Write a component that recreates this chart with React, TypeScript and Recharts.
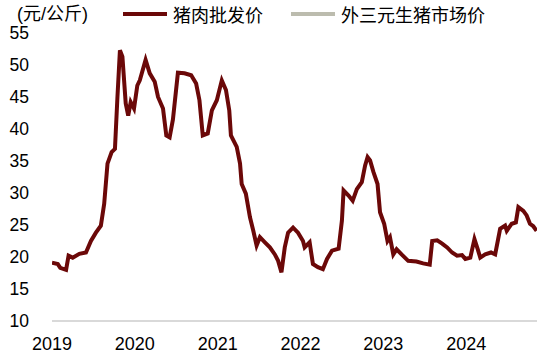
import React from 'react';
import { LineChart, Line, XAxis, YAxis, Legend } from 'recharts';

// time axis as fractional years (1 Jan of each year = tick)
const dates = [
  2019.0, 2019.07, 2019.1, 2019.17, 2019.2, 2019.25, 2019.33, 2019.41, 2019.47, 2019.53,
  2019.59, 2019.63, 2019.67, 2019.72, 2019.76, 2019.79, 2019.82, 2019.85, 2019.89, 2019.92,
  2019.95, 2019.99, 2020.03, 2020.06, 2020.13, 2020.18, 2020.24, 2020.28, 2020.34, 2020.38,
  2020.42, 2020.46, 2020.52, 2020.6, 2020.68, 2020.74, 2020.78, 2020.82, 2020.88, 2020.93,
  2020.99, 2021.05, 2021.1, 2021.14, 2021.16, 2021.23, 2021.27, 2021.29, 2021.34, 2021.39,
  2021.43, 2021.47, 2021.51, 2021.57, 2021.63, 2021.69, 2021.73, 2021.77, 2021.81, 2021.85,
  2021.91, 2021.97, 2022.03, 2022.05, 2022.11, 2022.15, 2022.21, 2022.27, 2022.32, 2022.38,
  2022.46, 2022.5, 2022.52, 2022.58, 2022.63, 2022.68, 2022.74, 2022.78, 2022.81, 2022.84,
  2022.88, 2022.93, 2022.96, 2023.01, 2023.05, 2023.08, 2023.12, 2023.16, 2023.22, 2023.3,
  2023.4, 2023.48, 2023.56, 2023.59, 2023.65, 2023.71, 2023.77, 2023.83, 2023.89, 2023.95,
  2023.99, 2024.05, 2024.1, 2024.14, 2024.17, 2024.23, 2024.3, 2024.35, 2024.41, 2024.47,
  2024.49, 2024.55, 2024.6, 2024.63, 2024.69, 2024.73, 2024.77, 2024.81, 2024.85,
];

// 猪肉批发价 (元/公斤)
const porkWholesale = [
  19.1, 18.9, 18.3, 18.0, 20.2, 19.9, 20.5, 20.7, 22.5, 23.8,
  24.9, 28.3, 34.6, 36.4, 36.9, 45.0, 52.3, 51.3, 44.0, 42.1,
  44.2, 43.2, 46.8, 47.6, 50.8, 48.7, 47.4, 45.0, 43.2, 39.0,
  38.7, 41.5, 48.8, 48.7, 48.4, 47.1, 44.5, 39.0, 39.3, 42.9,
  44.5, 47.6, 46.1, 42.9, 39.0, 37.2, 34.6, 31.4, 29.9, 26.2,
  24.1, 21.8, 23.1, 22.3, 21.5, 20.4, 19.4, 17.6, 21.5, 23.8,
  24.6, 23.8, 22.5, 21.5, 22.3, 18.9, 18.4, 18.1, 19.7, 21.0,
  21.3, 25.7, 30.4, 29.6, 28.8, 30.6, 31.7, 34.3, 35.6, 35.1,
  33.3, 31.4, 27.0, 25.2, 22.5, 23.1, 20.4, 21.2, 20.4, 19.4,
  19.3, 19.0, 18.8, 22.5, 22.6, 22.1, 21.5, 20.7, 20.2, 20.3,
  19.7, 19.9, 22.8, 21.2, 19.9, 20.4, 20.7, 20.4, 24.4, 24.9,
  24.1, 25.2, 25.4, 27.8, 27.2, 26.5, 25.2, 24.8, 24.1,
];

// 外三元生猪市场价: no values visible in the plot
const livePigPrice: (number | null)[] = dates.map(() => null);

const seriesNames = ['猪肉批发价', '外三元生猪市场价'];
const yTicks = [10, 15, 20, 25, 30, 35, 40, 45, 50, 55];
const xTicks = [2019, 2020, 2021, 2022, 2023, 2024];

const data = dates.map((d, i) => ({ d, pork: porkWholesale[i], live: livePigPrice[i] }));

const FONT = '"Liberation Sans", Arial, "Noto Sans CJK SC", sans-serif';

const LegendContent = (props: any) => {
  const payload = [...(props.payload || [])].sort(
    (a: any, b: any) => seriesNames.indexOf(a.value) - seriesNames.indexOf(b.value)
  );
  return (
    <div style={{ display: 'flex', alignItems: 'center', height: 24, fontFamily: FONT, fontSize: 18, color: '#000' }}>
      {payload.map((p: any, i: number) => (
        <div key={i} style={{ display: 'flex', alignItems: 'center', marginRight: 28 }}>
          <span style={{ display: 'inline-block', width: 44, height: 4, background: p.color, marginRight: 6 }} />
          <span>{p.value}</span>
        </div>
      ))}
    </div>
  );
};

export default function App() {
  return (
    <div style={{ position: 'absolute', left: 0, top: 0, width: 550, height: 363, background: '#fff', fontFamily: FONT }}>
      <div style={{ position: 'absolute', left: 17, top: 3, fontSize: 18, lineHeight: '22px', color: '#000' }}>(元/公斤)</div>
      {/* legend height (24) is added to the top margin by recharts */}
      <LineChart width={550} height={363} data={data} margin={{ top: 9, right: 13, bottom: 12, left: 12 }}>
        <XAxis
          dataKey="d"
          type="number"
          domain={[2019, 2024.855]}
          ticks={xTicks}
          tickLine={false}
          tickSize={0}
          tickMargin={16}
          height={30}
          axisLine={{ stroke: '#d9d9d9', strokeWidth: 2 }}
          tick={{ fontSize: 18, fill: '#000', fontFamily: FONT }}
          allowDataOverflow
        />
        <YAxis
          type="number"
          domain={[10, 55]}
          ticks={yTicks}
          interval={0}
          width={40}
          axisLine={false}
          tickLine={false}
          tickSize={0}
          tickMargin={23}
          tick={{ fontSize: 17.5, fill: '#000', fontFamily: FONT }}
        />
        <Legend
          verticalAlign="top"
          align="left"
          content={<LegendContent />}
          wrapperStyle={{ position: 'absolute', top: 2, left: 123, width: 420 }}
        />
        <Line
          dataKey="pork"
          name={seriesNames[0]}
          stroke="#6b0808"
          strokeWidth={4}
          dot={false}
          activeDot={false}
          isAnimationActive={false}
        />
        <Line
          dataKey="live"
          name={seriesNames[1]}
          stroke="#bcbcae"
          strokeWidth={4}
          dot={false}
          activeDot={false}
          isAnimationActive={false}
        />
      </LineChart>
    </div>
  );
}
